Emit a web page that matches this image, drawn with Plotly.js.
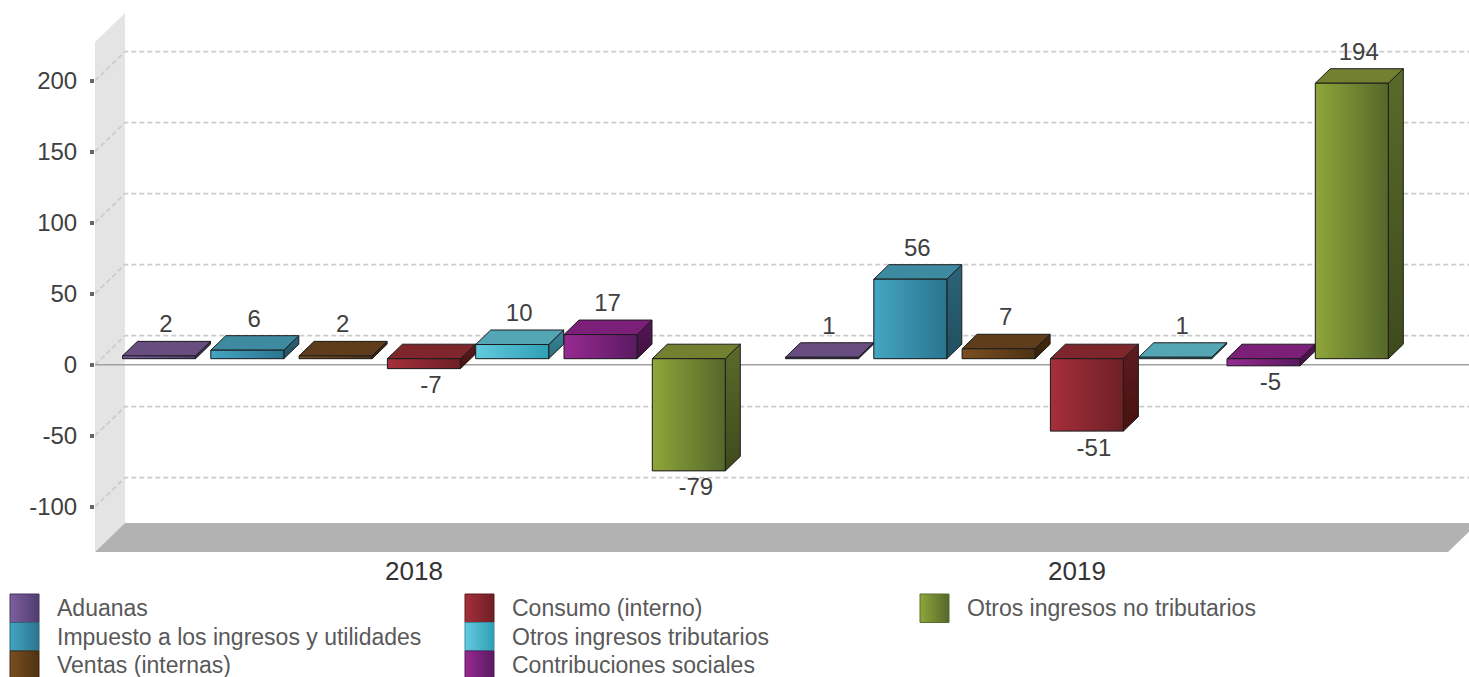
<!DOCTYPE html>
<html><head><meta charset="utf-8">
<script src="https://cdn.plot.ly/plotly-3.0.1.min.js"></script>
<style>html,body{margin:0;padding:0;background:#fff;overflow:hidden}#c{width:1469px;height:677px}</style>
</head><body><div id="c"></div>
<script>
// ---- data ----
const years = ['2018', '2019'];
const seriesNames = ['Aduanas','Impuesto a los ingresos y utilidades','Ventas (internas)','Consumo (interno)','Otros ingresos tributarios','Contribuciones sociales','Otros ingresos no tributarios'];
const aduanas = [2, 1];
const impuesto = [6, 56];
const ventas = [2, 7];
const consumo = [-7, -51];
const otrosTrib = [10, 1];
const contrib = [17, -5];
const otrosNoTrib = [-79, 194];
const allValues = [aduanas, impuesto, ventas, consumo, otrosTrib, contrib, otrosNoTrib];
const yTickVals = [-100,-50,0,50,100,150,200];
const yTickText = ['-100','-50','0','50','100','150','200'];
// ---- style ----
const frontL = ['#7d5e9e','#44a5c2','#7a4f20','#a52f3a','#63cadf','#982a93','#8fa63a'];
const frontR = ['#4f3e6f','#2a7590','#4e3214','#6e1f26','#2f9fb5','#5a1a60','#55672a'];
const topC   = ['#684e80','#3e8ba1','#5e3c1c','#7f252c','#55a6b5','#7b1f78','#728030'];
const sideT  = ['#46345f','#2c6478','#46290f','#5e1a20','#3a8899','#551656','#5a6a2a'];
const sideB  = ['#392a4e','#204f60','#362009','#46120f','#2c6c7c','#421042','#3f4a1c'];
const edge = '#1c1c1c';
const pxX = 663, pxY = 1.42;                    // pixels per category, pixels per value unit
const zeroPx = 364.7;
const xMin = (95-414)/pxX, xMax = (1469-414)/pxX;
const yMin = (zeroPx-552)/pxY, yMax = (zeroPx-13)/pxY;
const wallDX = 30/pxX, wallDY = 29/pxY;
const barDX = 15/pxX, barDY = 14.5/pxY, base = 6/pxY;
const barW = 73/pxX, barStep = 88.3/pxX, barShift = 9.9/pxX;

const traces = [], shapes = [];
const poly = (xs, ys, extra) => Object.assign({type:'scatter',mode:'lines',x:[...xs,xs[0]],y:[...ys,ys[0]],fill:'toself',showlegend:false,hoverinfo:'skip'}, extra);

// walls and floor
const floorRight = xMin + 1353/pxX;
const wallTopFront = yMax - wallDY;
shapes.push({type:'path',layer:'below',xref:'x',yref:'y',line:{width:0},fillcolor:'#e4e4e4',
  path:`M${xMin},${yMin} L${xMin},${wallTopFront} L${xMin+wallDX},${yMax} L${xMin+wallDX},${yMin+wallDY} Z`});
shapes.push({type:'path',layer:'below',xref:'x',yref:'y',line:{width:0},fillcolor:'#b2b2b2',
  path:`M${xMin},${yMin} L${xMin+wallDX},${yMin+wallDY} L${floorRight+wallDX},${yMin+wallDY} L${floorRight},${yMin} Z`});
// gridlines
yTickVals.forEach(v => shapes.push({type:'path',layer:'below',xref:'x',yref:'y',line:{color:'#cccccc',width:1.8,dash:'5px,3px'},
  path:`M${xMin},${v} L${xMin+wallDX},${v+wallDY} L${xMax},${v+wallDY}`}));
// zero line
shapes.push({type:'line',layer:'below',xref:'x',yref:'y',x0:xMin,x1:xMax,y0:0,y1:0,line:{color:'#a0a0a0',width:1.5}});

// bars
const labelX = [], labelY = [], labelT = [];
allValues.forEach((vals, i) => {
  const xs = years.map((_, g) => g + barShift + (i-3)*barStep);
  traces.push({type:'bar',name:seriesNames[i],x:xs,y:vals,base:vals.map(()=>base),width:vals.map(()=>barW),
    marker:{color:frontL[i],line:{width:0}},showlegend:false,hoverinfo:'skip'});
});
allValues.forEach((vals, i) => {
  vals.forEach((v, g) => {
    const cx = g + barShift + (i-3)*barStep, l = cx-barW/2, r = cx+barW/2;
    const t = Math.max(v,0)+base, b = Math.min(v,0)+base;
    const ln = {color:edge,width:1};
    traces.push(poly([r,r+barDX,r+barDX,r],[b,b+barDY,t+barDY,t],{line:ln,fillgradient:{type:'vertical',colorscale:[[0,sideB[i]],[1,sideT[i]]]}}));
    traces.push(poly([l,l+barDX,r+barDX,r],[t,t+barDY,t+barDY,t],{line:ln,fillcolor:topC[i]}));
    traces.push(poly([l,r,r,l],[b,b,t,t],{line:ln,fillgradient:{type:'horizontal',colorscale:[[0,frontL[i]],[1,frontR[i]]]}}));
    labelX.push(cx+7/pxX);
    labelY.push(v>=0 ? t+barDY+15/pxY : b-18.5/pxY);
    labelT.push(String(v));
  });
});
traces.push({type:'scatter',mode:'text',x:labelX,y:labelY,text:labelT,textposition:'middle center',cliponaxis:false,
  textfont:{family:'Liberation Sans',size:24,color:'#404040'},showlegend:false,hoverinfo:'skip'});

// legend
const legendColX = [10,465,920], legendRowY = [594,622.5,651], swatch = 29, rowH = 28.5;
const annotations = [];
seriesNames.forEach((name, i) => {
  const col = Math.floor(i/3), row = i%3;
  const x0 = legendColX[col], y0 = legendRowY[row];
  traces.push(poly([x0,x0+swatch,x0+swatch,x0],[y0,y0,y0+rowH,y0+rowH],{xaxis:'x2',yaxis:'y2',
    line:{color:sideT[i],width:1},fillgradient:{type:'horizontal',colorscale:[[0,frontL[i]],[1,frontR[i]]]}}));
  annotations.push({xref:'paper',yref:'paper',x:(x0+45)/1469,y:1-(y0+14)/677,xanchor:'left',yanchor:'middle',showarrow:false,
    text:name,font:{family:'Liberation Sans',size:23,color:'#595959'}});
});

Plotly.newPlot('c', traces, {
  width:1469,height:677,margin:{l:0,r:0,t:0,b:0},paper_bgcolor:'#fff',plot_bgcolor:'rgba(0,0,0,0)',
  barmode:'overlay',showlegend:false,shapes,annotations,
  xaxis:{domain:[95/1469,1],range:[xMin,xMax],tickmode:'array',tickvals:[0,1],ticktext:years,showgrid:false,zeroline:false,showline:false,ticks:'',
    ticklabelstandoff:1,tickfont:{family:'Liberation Sans',size:26,color:'#333'}},
  yaxis:{domain:[(677-552)/677,(677-13)/677],range:[yMin,yMax],tickmode:'array',tickvals:yTickVals,ticktext:yTickText,showgrid:false,zeroline:false,showline:false,
    ticks:'outside',ticklen:4,tickwidth:4,tickcolor:'#666',ticklabelstandoff:8,tickfont:{family:'Liberation Sans',size:24,color:'#404040'}},
  xaxis2:{domain:[0,1],range:[0,1469],visible:false,anchor:'y2'},
  yaxis2:{domain:[0,1],range:[677,0],visible:false,anchor:'x2'}
},{displayModeBar:false,staticPlot:true});
</script></body></html>
